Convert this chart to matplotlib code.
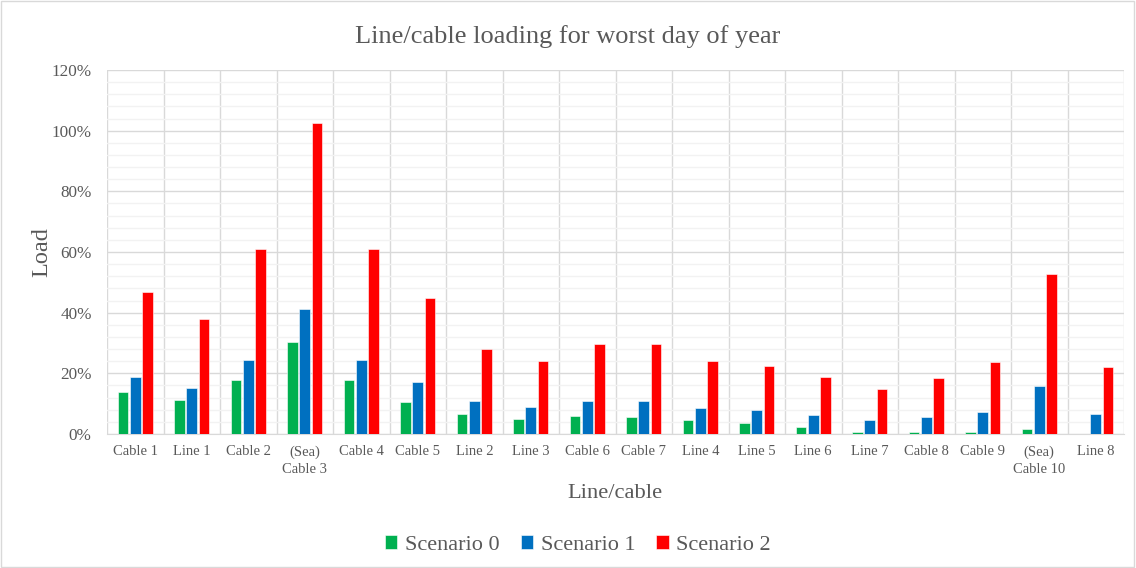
import numpy as np
import matplotlib.pyplot as plt
from matplotlib.patches import Rectangle
from matplotlib.ticker import MultipleLocator, PercentFormatter

categories = ['Cable 1', 'Line 1', 'Cable 2', '(Sea)\nCable 3', 'Cable 4', 'Cable 5',
              'Line 2', 'Line 3', 'Cable 6', 'Cable 7', 'Line 4', 'Line 5', 'Line 6',
              'Line 7', 'Cable 8', 'Cable 9', '(Sea)\nCable 10', 'Line 8']
scenario0 = [13.7, 11.2, 17.8, 30.2, 17.8, 10.5, 6.6, 4.8, 5.8, 5.7, 4.6, 3.7, 2.2,
             0.5, 0.7, 0.8, 1.6, 0.0]
scenario1 = [18.8, 15.3, 24.3, 41.1, 24.3, 17.0, 10.8, 8.8, 10.9, 10.8, 8.7, 7.9, 6.2,
             4.5, 5.5, 7.3, 15.9, 6.5]
scenario2 = [46.9, 38.0, 60.9, 102.4, 60.9, 44.9, 28.1, 24.1, 29.8, 29.8, 24.1, 22.3, 18.7,
             14.9, 18.4, 23.7, 52.9, 22.1]
series_names = ['Scenario 0', 'Scenario 1', 'Scenario 2']
colors = ['#00B050', '#0070C0', '#FF0000']

plt.rcParams['font.family'] = ['Liberation Serif', 'DejaVu Serif']
text_color = '#595959'

fig = plt.figure(figsize=(11.36, 5.68), dpi=100)
ax = fig.add_axes([107 / 1136, 1 - 434 / 568, (1124 - 107) / 1136, (434 - 70) / 568])

# outer chart border
fig.patches.append(Rectangle((0.001, 0.002), 0.997, 0.996, transform=fig.transFigure,
                             fill=False, edgecolor='#D9D9D9', linewidth=1))

x = np.arange(len(categories))
width = 0.19
step = 0.218
for i, (vals, name, c) in enumerate(zip([scenario0, scenario1, scenario2], series_names, colors)):
    ax.bar(x + (i - 1) * step, vals, width, color=c, label=name,
           edgecolor='white', linewidth=0.4, zorder=3)

ax.set_xlim(-0.5, len(categories) - 0.5)
ax.set_ylim(0, 120)
ax.yaxis.set_major_locator(MultipleLocator(20))
ax.yaxis.set_minor_locator(MultipleLocator(4))
ax.yaxis.set_major_formatter(PercentFormatter(decimals=0))
ax.set_xticks(x)
ax.set_xticklabels(categories, fontsize=10.5, color=text_color, linespacing=1.45)
ax.set_xticks(np.arange(len(categories) + 1) - 0.5, minor=True)

ax.grid(which='major', axis='y', color='#D9D9D9', linewidth=1, zorder=0)
ax.grid(which='minor', axis='y', color='#F2F2F2', linewidth=1, zorder=0)
ax.grid(which='minor', axis='x', color='#D9D9D9', linewidth=1, zorder=0)
ax.tick_params(axis='both', which='both', length=0)
ax.tick_params(axis='y', labelsize=12.3, labelcolor=text_color, pad=11)
ax.tick_params(axis='x', pad=8)
for s in ['top', 'right', 'left']:
    ax.spines[s].set_visible(False)
ax.spines['bottom'].set_color('#D9D9D9')

fig.text(0.5, 1 - 37 / 568, 'Line/cable loading for worst day of year', ha='center', va='center',
         fontsize=19, color=text_color)
fig.text(42 / 1136, 1 - 252 / 568, 'Load', rotation=90, ha='center', va='center',
         fontsize=17.5, color=text_color)
fig.text(615 / 1136, 1 - 494 / 568, 'Line/cable', ha='center', va='center',
         fontsize=16.2, color=text_color)

leg = fig.legend(loc='center', bbox_to_anchor=(578 / 1136, 1 - 545 / 568), ncol=3,
                 frameon=False, fontsize=16, handlelength=0.55, handleheight=0.55,
                 handletextpad=0.35, columnspacing=0.95)
for t in leg.get_texts():
    t.set_color(text_color)

fig.savefig('out.png', dpi=100)
